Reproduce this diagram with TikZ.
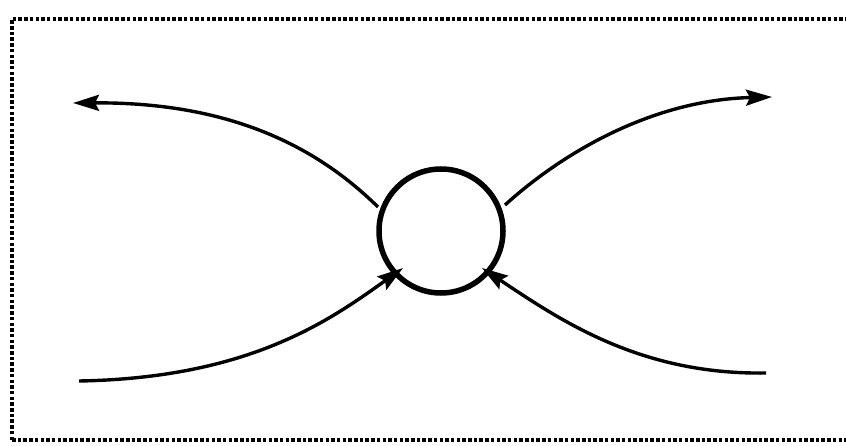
\documentclass[tikz,border=0pt]{standalone}
\usetikzlibrary{arrows.meta}
\begin{document}
\begin{tikzpicture}[x=1pt,y=-1pt,
  flow/.style={line width=3.4pt,-{Stealth[length=26pt,width=16pt,inset=4pt]}},
  frame/.style={line width=4pt,dash pattern=on 3.5pt off 2.2pt}]
\useasboundingbox (0,0) rectangle (846,446);
\fill[white] (0,0) rectangle (846,446);
\draw[frame] (12,440) -- (12,19) -- (846,19);
\draw[frame] (12,440) -- (846,440);
\node[circle,draw,line width=5.5pt,minimum size=124pt,inner sep=0pt] (c) at (441,231) {};
\coordinate (tl) at (73,103);
\coordinate (tr) at (772,97);
\coordinate (bl) at (79,381);
\coordinate (br) at (766,373);
\coordinate (tls) at (378,207);
\coordinate (trs) at (505,205);
\coordinate (bli) at (403,268);
\coordinate (bri) at (482,268);
\draw[flow] (tls) .. controls (320,150) and (235,102) .. (tl);
\draw[flow] (trs) .. controls (560,155) and (650,100) .. (tr);
\draw[flow] (bl) .. controls (250,378) and (330,320) .. (bli);
\draw[flow] (br) .. controls (640,375) and (560,320) .. (bri);
\end{tikzpicture}
\end{document}
